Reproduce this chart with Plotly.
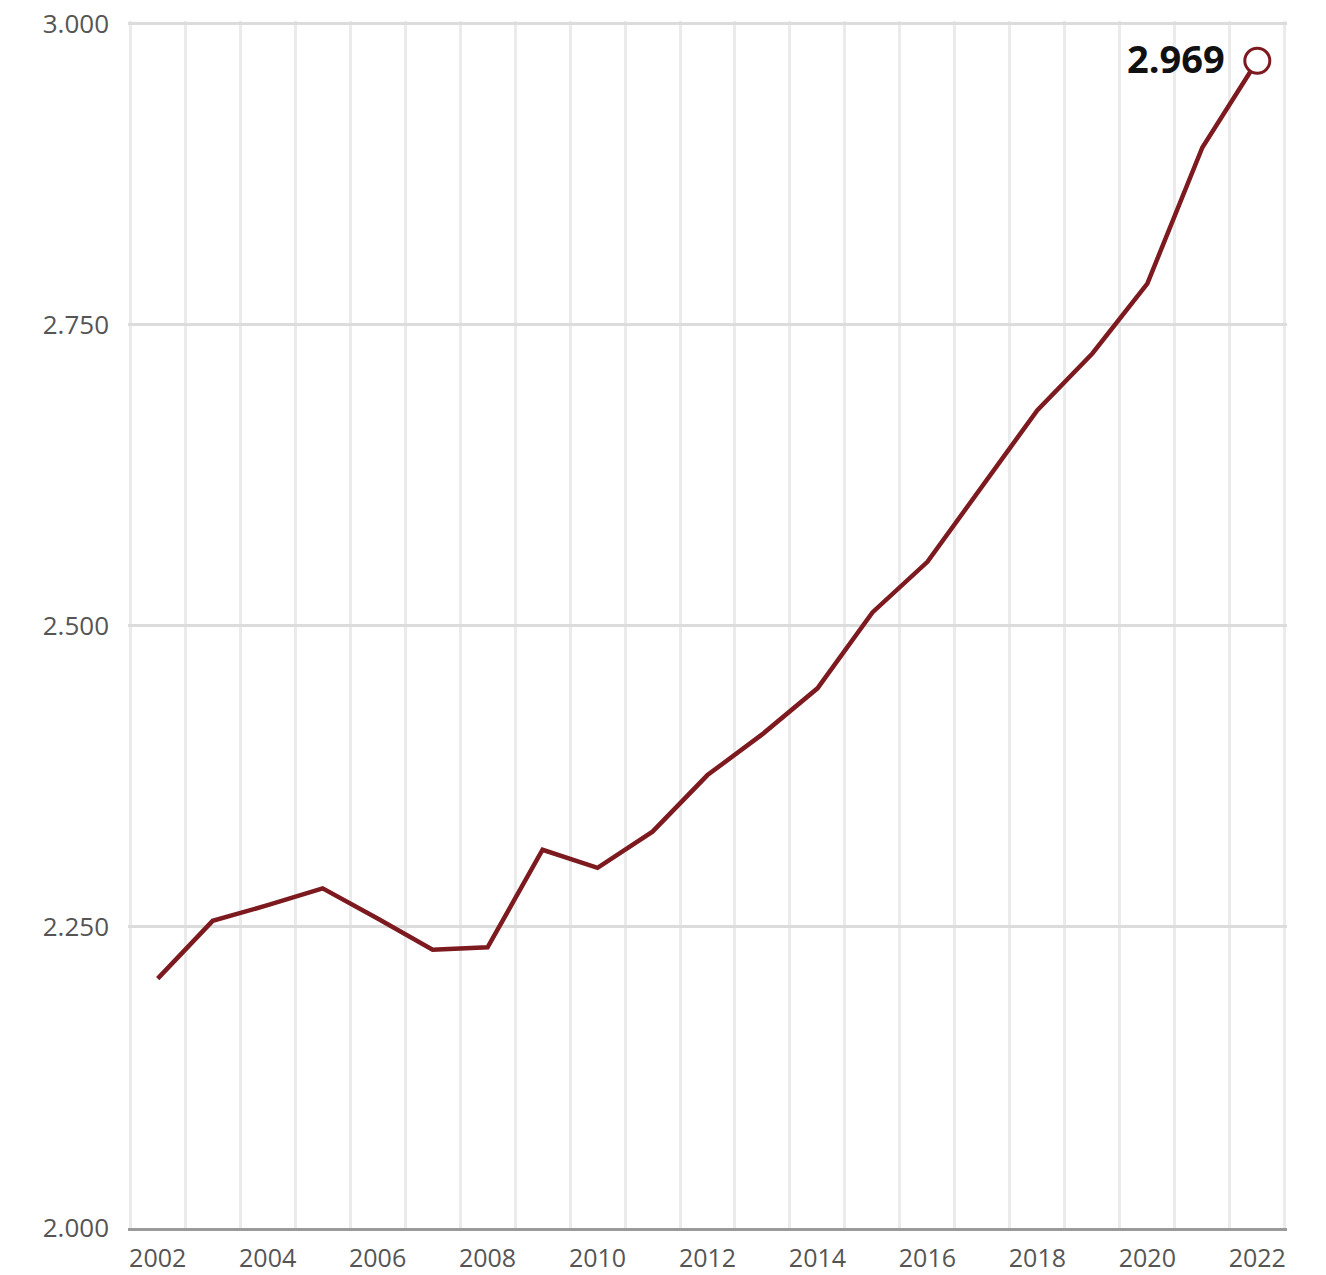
import plotly.graph_objects as go

years = list(range(2002, 2023))
values = [2207, 2255, 2268, 2282, 2257, 2231, 2233, 2314, 2299, 2329,
          2376, 2410, 2448, 2511, 2553, 2616, 2679, 2726, 2784, 2897, 2969]
x_tick_years = list(range(2002, 2023, 2))
y_ticks = [2000, 2250, 2500, 2750, 3000]

line_color = "#7d1a1f"
font_family = "Open Sans, Lato, sans-serif"

fig = go.Figure()
fig.add_trace(go.Scatter(
    x=years, y=values, mode="lines",
    line=dict(color=line_color, width=4.5),
    hoverinfo="x+y", showlegend=False,
))
fig.add_trace(go.Scatter(
    x=[years[-1]], y=[values[-1]], mode="markers",
    marker=dict(size=25, color="white", line=dict(color=line_color, width=3)),
    showlegend=False, hoverinfo="skip",
))

last_label = f"{values[-1]:,}".replace(",", ".")
fig.add_annotation(
    x=years[-1], y=values[-1], text=f"<b>{last_label}</b>",
    showarrow=False, xanchor="right", yanchor="middle",
    xshift=-30, yshift=3,
    font=dict(family=font_family, size=38, color="#111111"),
)

# The page body adds an 8 px offset, so the figure is sized to fit the window.
fig.update_layout(
    width=1318, height=1267,
    margin=dict(l=120, r=39, t=13, b=47),
    paper_bgcolor="white", plot_bgcolor="white",
    separators=",.",
    font=dict(family=font_family, size=26, color="#555555"),
)
fig.update_xaxes(
    range=[2001.46, 2022.54], automargin=False,
    tickmode="array", tickvals=x_tick_years,
    ticktext=[str(y) for y in x_tick_years],
    tickfont=dict(size=25),
    showgrid=False, zeroline=False,
    showline=True, linecolor="#9a9a9a", linewidth=3,
    ticks="", ticklabelstandoff=6, ticklabeloverflow="allow",
    minor=dict(tick0=2001.5, dtick=1, showgrid=True,
               gridcolor="#ebebeb", gridwidth=3, ticks=""),
)
fig.update_yaxes(
    range=[2000, 3002], automargin=False,
    tickmode="array", tickvals=y_ticks,
    tickformat=",d",
    showgrid=True, gridcolor="#dcdcdc", gridwidth=3,
    zeroline=False, showline=False, ticks="",
    ticklabelstandoff=18, ticklabeloverflow="allow",
)

fig.write_html("out.html")
